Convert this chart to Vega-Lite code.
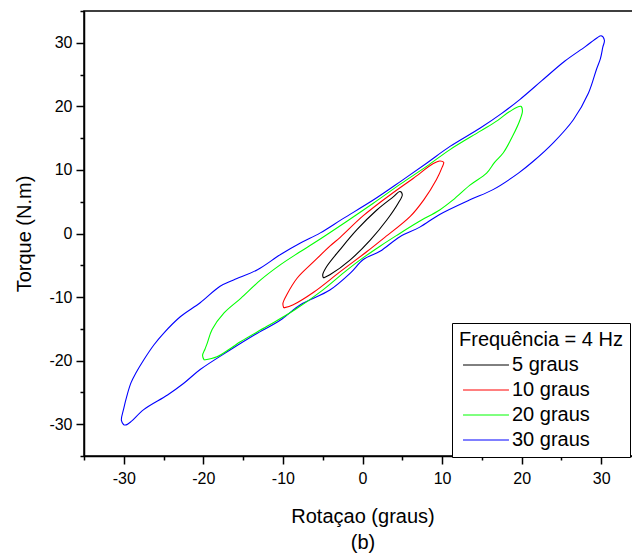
{
  "$schema": "https://vega.github.io/schema/vega-lite/v6.json",
  "width": 557,
  "height": 445,
  "autosize": {"type": "none"},
  "padding": {"left": 84, "top": 11, "right": 0, "bottom": 98},
  "background": "white",
  "config": {
    "font": "Liberation Sans",
    "view": {"stroke": "black", "strokeWidth": 1.5},
    "axis": {
      "grid": false,
      "domainColor": "black",
      "domainWidth": 1.5,
      "tickColor": "black",
      "tickWidth": 1.5,
      "labelColor": "black",
      "labelFont": "Liberation Sans",
      "labelFontSize": 16,
      "titleColor": "black",
      "titleFont": "Liberation Sans",
      "titleFontSize": 20,
      "titleFontWeight": "normal"
    }
  },
  "data": {
    "values": [
      {"s": "30 graus", "i": 0, "x": -30.0, "y": -30.1},
      {"s": "30 graus", "i": 1, "x": -30.3, "y": -29.4},
      {"s": "30 graus", "i": 2, "x": -30.0, "y": -27.5},
      {"s": "30 graus", "i": 3, "x": -29.6, "y": -25.5},
      {"s": "30 graus", "i": 4, "x": -29.1, "y": -23.5},
      {"s": "30 graus", "i": 5, "x": -28.5, "y": -22.0},
      {"s": "30 graus", "i": 6, "x": -27.5, "y": -19.9},
      {"s": "30 graus", "i": 7, "x": -26.2, "y": -17.5},
      {"s": "30 graus", "i": 8, "x": -25.0, "y": -15.7},
      {"s": "30 graus", "i": 9, "x": -22.9, "y": -13.1},
      {"s": "30 graus", "i": 10, "x": -20.4, "y": -10.9},
      {"s": "30 graus", "i": 11, "x": -17.9, "y": -8.3},
      {"s": "30 graus", "i": 12, "x": -16.2, "y": -7.3},
      {"s": "30 graus", "i": 13, "x": -13.2, "y": -5.7},
      {"s": "30 graus", "i": 14, "x": -10.3, "y": -3.3},
      {"s": "30 graus", "i": 15, "x": -7.8, "y": -1.5},
      {"s": "30 graus", "i": 16, "x": -5.3, "y": 0.1},
      {"s": "30 graus", "i": 17, "x": -2.5, "y": 2.3},
      {"s": "30 graus", "i": 18, "x": 1.4, "y": 5.3},
      {"s": "30 graus", "i": 19, "x": 4.8, "y": 8.2},
      {"s": "30 graus", "i": 20, "x": 8.1, "y": 11.1},
      {"s": "30 graus", "i": 21, "x": 11.0, "y": 13.7},
      {"s": "30 graus", "i": 22, "x": 14.8, "y": 16.6},
      {"s": "30 graus", "i": 23, "x": 17.5, "y": 18.9},
      {"s": "30 graus", "i": 24, "x": 19.8, "y": 21.1},
      {"s": "30 graus", "i": 25, "x": 22.5, "y": 24.0},
      {"s": "30 graus", "i": 26, "x": 25.4, "y": 27.1},
      {"s": "30 graus", "i": 27, "x": 28.0, "y": 29.4},
      {"s": "30 graus", "i": 28, "x": 29.5, "y": 30.8},
      {"s": "30 graus", "i": 29, "x": 30.0, "y": 31.1},
      {"s": "30 graus", "i": 30, "x": 30.4, "y": 30.4},
      {"s": "30 graus", "i": 31, "x": 30.2, "y": 29.3},
      {"s": "30 graus", "i": 32, "x": 29.9, "y": 27.5},
      {"s": "30 graus", "i": 33, "x": 29.4, "y": 25.8},
      {"s": "30 graus", "i": 34, "x": 28.4, "y": 22.1},
      {"s": "30 graus", "i": 35, "x": 26.5, "y": 17.9},
      {"s": "30 graus", "i": 36, "x": 24.0, "y": 14.3},
      {"s": "30 graus", "i": 37, "x": 21.5, "y": 11.4},
      {"s": "30 graus", "i": 38, "x": 19.6, "y": 9.5},
      {"s": "30 graus", "i": 39, "x": 16.4, "y": 6.9},
      {"s": "30 graus", "i": 40, "x": 13.5, "y": 5.3},
      {"s": "30 graus", "i": 41, "x": 9.7, "y": 3.0},
      {"s": "30 graus", "i": 42, "x": 7.2, "y": 1.0},
      {"s": "30 graus", "i": 43, "x": 4.7, "y": -0.5},
      {"s": "30 graus", "i": 44, "x": 2.2, "y": -2.8},
      {"s": "30 graus", "i": 45, "x": 0.1, "y": -4.1},
      {"s": "30 graus", "i": 46, "x": -1.5, "y": -6.2},
      {"s": "30 graus", "i": 47, "x": -4.1, "y": -8.9},
      {"s": "30 graus", "i": 48, "x": -7.8, "y": -11.2},
      {"s": "30 graus", "i": 49, "x": -10.3, "y": -13.6},
      {"s": "30 graus", "i": 50, "x": -13.5, "y": -15.9},
      {"s": "30 graus", "i": 51, "x": -16.6, "y": -18.3},
      {"s": "30 graus", "i": 52, "x": -20.4, "y": -21.4},
      {"s": "30 graus", "i": 53, "x": -22.5, "y": -23.6},
      {"s": "30 graus", "i": 54, "x": -24.5, "y": -25.4},
      {"s": "30 graus", "i": 55, "x": -27.5, "y": -27.7},
      {"s": "30 graus", "i": 56, "x": -29.1, "y": -29.6},
      {"s": "30 graus", "i": 57, "x": -29.7, "y": -30.1},
      {"s": "30 graus", "i": 58, "x": -30.0, "y": -30.1},

      {"s": "20 graus", "i": 0, "x": -19.9, "y": -19.9},
      {"s": "20 graus", "i": 1, "x": -20.1, "y": -19.2},
      {"s": "20 graus", "i": 2, "x": -19.8, "y": -18.2},
      {"s": "20 graus", "i": 3, "x": -19.5, "y": -17.2},
      {"s": "20 graus", "i": 4, "x": -18.9, "y": -15.1},
      {"s": "20 graus", "i": 5, "x": -17.4, "y": -12.5},
      {"s": "20 graus", "i": 6, "x": -15.3, "y": -10.2},
      {"s": "20 graus", "i": 7, "x": -12.8, "y": -7.3},
      {"s": "20 graus", "i": 8, "x": -10.3, "y": -4.9},
      {"s": "20 graus", "i": 9, "x": -8.0, "y": -3.0},
      {"s": "20 graus", "i": 10, "x": -6.1, "y": -1.5},
      {"s": "20 graus", "i": 11, "x": -2.0, "y": 1.9},
      {"s": "20 graus", "i": 12, "x": 1.4, "y": 4.8},
      {"s": "20 graus", "i": 13, "x": 4.8, "y": 7.8},
      {"s": "20 graus", "i": 14, "x": 8.1, "y": 10.6},
      {"s": "20 graus", "i": 15, "x": 11.0, "y": 13.2},
      {"s": "20 graus", "i": 16, "x": 14.8, "y": 16.1},
      {"s": "20 graus", "i": 17, "x": 17.0, "y": 17.8},
      {"s": "20 graus", "i": 18, "x": 18.5, "y": 19.2},
      {"s": "20 graus", "i": 19, "x": 19.9, "y": 20.0},
      {"s": "20 graus", "i": 20, "x": 20.1, "y": 19.3},
      {"s": "20 graus", "i": 21, "x": 19.8, "y": 17.9},
      {"s": "20 graus", "i": 22, "x": 18.9, "y": 15.4},
      {"s": "20 graus", "i": 23, "x": 17.7, "y": 12.7},
      {"s": "20 graus", "i": 24, "x": 16.6, "y": 11.2},
      {"s": "20 graus", "i": 25, "x": 15.6, "y": 9.5},
      {"s": "20 graus", "i": 26, "x": 13.5, "y": 7.6},
      {"s": "20 graus", "i": 27, "x": 11.4, "y": 5.3},
      {"s": "20 graus", "i": 28, "x": 9.7, "y": 3.7},
      {"s": "20 graus", "i": 29, "x": 7.0, "y": 1.8},
      {"s": "20 graus", "i": 30, "x": 4.3, "y": -0.3},
      {"s": "20 graus", "i": 31, "x": 2.2, "y": -2.0},
      {"s": "20 graus", "i": 32, "x": 0.1, "y": -3.8},
      {"s": "20 graus", "i": 33, "x": -2.0, "y": -5.8},
      {"s": "20 graus", "i": 34, "x": -5.0, "y": -8.9},
      {"s": "20 graus", "i": 35, "x": -8.5, "y": -12.0},
      {"s": "20 graus", "i": 36, "x": -12.0, "y": -14.6},
      {"s": "20 graus", "i": 37, "x": -15.3, "y": -17.0},
      {"s": "20 graus", "i": 38, "x": -16.5, "y": -18.0},
      {"s": "20 graus", "i": 39, "x": -18.3, "y": -19.4},
      {"s": "20 graus", "i": 40, "x": -19.9, "y": -19.9},

      {"s": "10 graus", "i": 0, "x": -9.9, "y": -11.7},
      {"s": "10 graus", "i": 1, "x": -10.0, "y": -11.0},
      {"s": "10 graus", "i": 2, "x": -9.5, "y": -9.6},
      {"s": "10 graus", "i": 3, "x": -8.2, "y": -7.0},
      {"s": "10 graus", "i": 4, "x": -6.1, "y": -4.4},
      {"s": "10 graus", "i": 5, "x": -4.1, "y": -2.0},
      {"s": "10 graus", "i": 6, "x": -2.8, "y": -0.6},
      {"s": "10 graus", "i": 7, "x": 0.1, "y": 2.8},
      {"s": "10 graus", "i": 8, "x": 3.5, "y": 6.1},
      {"s": "10 graus", "i": 9, "x": 6.4, "y": 8.7},
      {"s": "10 graus", "i": 10, "x": 8.9, "y": 11.0},
      {"s": "10 graus", "i": 11, "x": 9.7, "y": 11.4},
      {"s": "10 graus", "i": 12, "x": 10.2, "y": 11.2},
      {"s": "10 graus", "i": 13, "x": 10.0, "y": 10.4},
      {"s": "10 graus", "i": 14, "x": 9.3, "y": 8.5},
      {"s": "10 graus", "i": 15, "x": 7.7, "y": 5.3},
      {"s": "10 graus", "i": 16, "x": 6.0, "y": 2.7},
      {"s": "10 graus", "i": 17, "x": 2.6, "y": -0.8},
      {"s": "10 graus", "i": 18, "x": 0.6, "y": -2.8},
      {"s": "10 graus", "i": 19, "x": -2.8, "y": -6.0},
      {"s": "10 graus", "i": 20, "x": -6.1, "y": -9.2},
      {"s": "10 graus", "i": 21, "x": -8.7, "y": -11.2},
      {"s": "10 graus", "i": 22, "x": -9.9, "y": -11.7},

      {"s": "5 graus", "i": 0, "x": -4.9, "y": -7.0},
      {"s": "5 graus", "i": 1, "x": -5.0, "y": -6.5},
      {"s": "5 graus", "i": 2, "x": -4.5, "y": -5.2},
      {"s": "5 graus", "i": 3, "x": -2.8, "y": -2.5},
      {"s": "5 graus", "i": 4, "x": -0.7, "y": 0.6},
      {"s": "5 graus", "i": 5, "x": 1.8, "y": 3.7},
      {"s": "5 graus", "i": 6, "x": 3.9, "y": 5.8},
      {"s": "5 graus", "i": 7, "x": 4.7, "y": 6.6},
      {"s": "5 graus", "i": 8, "x": 5.0, "y": 6.1},
      {"s": "5 graus", "i": 9, "x": 4.5, "y": 4.8},
      {"s": "5 graus", "i": 10, "x": 3.1, "y": 2.2},
      {"s": "5 graus", "i": 11, "x": 1.0, "y": -1.0},
      {"s": "5 graus", "i": 12, "x": -1.5, "y": -4.1},
      {"s": "5 graus", "i": 13, "x": -4.1, "y": -6.5},
      {"s": "5 graus", "i": 14, "x": -4.9, "y": -7.0}
    ]
  },
  "mark": {"type": "line", "strokeWidth": 1.1, "interpolate": "catmull-rom", "clip": true},
  "encoding": {
    "x": {
      "field": "x",
      "type": "quantitative",
      "scale": {"domain": [-35, 35], "nice": false, "zero": false},
      "axis": {
        "title": ["Rotaçao (graus)", "(b)"],
        "titleLineHeight": 26,
        "titlePadding": 20,
        "values": [-35, -30, -25, -20, -15, -10, -5, 0, 5, 10, 15, 20, 25, 30, 35],
        "labelExpr": "datum.value % 10 === 0 ? '' + datum.value : ''",
        "tickSize": {"condition": {"test": "datum.value % 10 === 0", "value": 8}, "value": 4},
        "labelPadding": 6,
        "labelFlush": false,
        "labelOverlap": false
      }
    },
    "y": {
      "field": "y",
      "type": "quantitative",
      "scale": {"domain": [-35, 35], "nice": false, "zero": false},
      "axis": {
        "title": "Torque (N.m)",
        "titlePadding": 14,
        "values": [-35, -30, -25, -20, -15, -10, -5, 0, 5, 10, 15, 20, 25, 30, 35],
        "labelExpr": "datum.value % 10 === 0 ? '' + datum.value : ''",
        "tickSize": {"condition": {"test": "datum.value % 10 === 0", "value": 8}, "value": 4},
        "labelPadding": 4,
        "labelFlush": false,
        "labelOverlap": false
      }
    },
    "color": {
      "field": "s",
      "type": "nominal",
      "scale": {
        "domain": ["5 graus", "10 graus", "20 graus", "30 graus"],
        "range": ["#000000", "#ff0000", "#00ff00", "#0000ff"]
      },
      "legend": {
        "title": "Frequência = 4 Hz",
        "orient": "none",
        "legendX": 368,
        "legendY": 312,
        "direction": "vertical",
        "strokeColor": "black",
        "fillColor": "white",
        "padding": 7,
        "titleFont": "Liberation Sans",
        "titleFontSize": 20,
        "titleFontWeight": "normal",
        "titleColor": "black",
        "titlePadding": 5,
        "labelFont": "Liberation Sans",
        "labelFontSize": 20,
        "labelColor": "black",
        "labelAlign": "left",
        "labelOffset": 16,
        "symbolType": "M-4,0H4",
        "symbolSize": 132,
        "symbolOffset": 17,
        "symbolStrokeWidth": 1,
        "rowPadding": 5
      }
    },
    "order": {"field": "i", "type": "quantitative"}
  }
}
